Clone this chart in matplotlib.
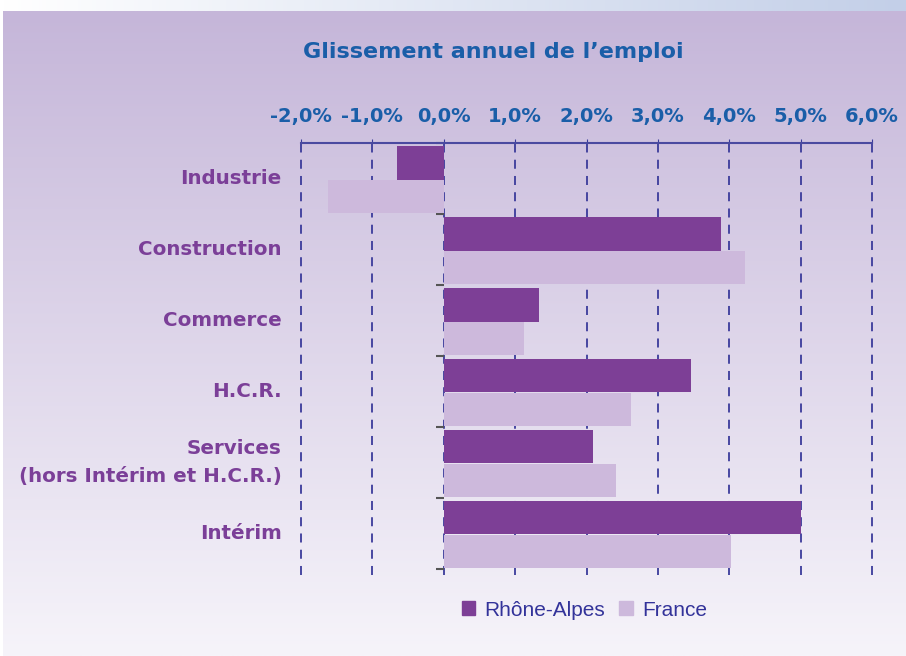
import matplotlib.pyplot as plt
import matplotlib.colors as mcolors
from matplotlib.patches import Patch
import numpy as np

# données
categories = ['Industrie', 'Construction', 'Commerce', 'H.C.R.',
              'Services\n(hors Intérim et H.C.R.)', 'Intérim']
rhone_alpes = [-0.66, 3.89, 1.34, 3.46, 2.09, 5.01]
france = [-1.62, 4.22, 1.12, 2.62, 2.41, 4.03]
x_ticks = [-2, -1, 0, 1, 2, 3, 4, 5, 6]
x_labels = ['-2,0%', '-1,0%', '0,0%', '1,0%', '2,0%', '3,0%', '4,0%', '5,0%', '6,0%']

c_ra = '#7d3f96'
c_fr = '#cdb9dc'
c_blue = '#1a5ea8'
c_purple = '#7b3f98'
c_grid = '#3b3b9b'

fig = plt.figure(figsize=(9.06, 6.56), dpi=100)

# fond dégradé
bg = fig.add_axes([0, 0, 1, 1], zorder=-10)
bg.set_axis_off()
top = np.array(mcolors.to_rgb('#c5b6d9'))
bot = np.array(mcolors.to_rgb('#f6f4fa'))
t = np.linspace(0, 1, 256)[:, None, None]
grad = top * (1 - t) + bot * t
grad = np.repeat(grad, 2, axis=1)
bg.imshow(grad, extent=[3 / 906, 1, 0, 1 - 11 / 656], aspect='auto')
left = np.array(mcolors.to_rgb('#ffffff'))
right = np.array(mcolors.to_rgb('#c3cfe8'))
s = np.linspace(0, 1, 256)[None, :, None]
strip = left * (1 - s) + right * s
strip = np.repeat(strip, 2, axis=0)
bg.imshow(strip, extent=[0, 1, 1 - 11 / 656, 1], aspect='auto')
bg.set_xlim(0, 1)
bg.set_ylim(0, 1)

ax = fig.add_axes([301 / 906, 1 - 571 / 656, 571 / 906, 428 / 656])
ax.patch.set_visible(False)

y = np.arange(len(categories))
h = 0.47
ax.barh(y + 0.28, rhone_alpes, height=h, color=c_ra, zorder=3)
ax.barh(y + 0.755, france, height=h, color=c_fr, zorder=3)

ax.set_xlim(-2, 6)
ax.set_ylim(len(categories) + 0.03, 0)

for xt in x_ticks:
    ax.axvline(xt, ymin=-0.01, ymax=1, color=c_grid, lw=1.3,
               linestyle=(0, (5, 4)), zorder=1, clip_on=False)

ax.xaxis.tick_top()
ax.set_xticks(x_ticks)
ax.set_xticklabels(x_labels, color=c_blue, fontsize=14, fontweight='bold')
ax.tick_params(axis='x', direction='out', length=3, color=c_grid, pad=9)

ax.spines['left'].set_position(('data', 0))
ax.spines['left'].set_visible(False)
ax.spines['right'].set_visible(False)
ax.spines['bottom'].set_visible(False)
ax.spines['top'].set_color('#4a4aa0')
ax.spines['top'].set_linewidth(1.5)
ax.set_yticks(np.arange(len(categories) + 1))
ax.set_yticklabels([])
ax.tick_params(axis='y', direction='out', length=6, color='#555555', width=1.5)

for i, cat in enumerate(categories):
    ax.text(-2.27, i + 0.5, cat, ha='right', va='center', multialignment='right',
            color=c_purple, fontsize=14.3, fontweight='bold', linespacing=1.6)

fig.text(0.544, 0.921, 'Glissement annuel de l\u2019emploi', ha='center', va='center',
         color=c_blue, fontsize=16, fontweight='bold')

handles = [Patch(color=c_ra, label='Rhône-Alpes'), Patch(color=c_fr, label='France')]
fig.legend(handles=handles, loc='center', bbox_to_anchor=(0.645, 1 - 610 / 656), ncol=2,
           frameon=False, handlelength=0.65, handleheight=0.65,
           handletextpad=0.45, columnspacing=0.65, labelcolor='#33339a',
           prop={'family': 'Liberation Sans', 'size': 15})

fig.savefig('out.png', dpi=100)
